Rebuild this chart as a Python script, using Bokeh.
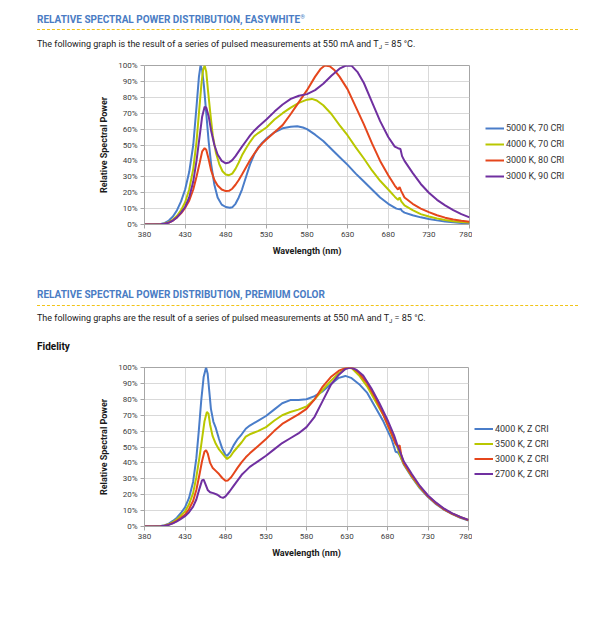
from bokeh.plotting import figure
from bokeh.models import (Legend, LegendItem, FixedTicker, PrintfTickFormatter,
                          Range1d, Div)
from bokeh.layouts import column, row
from bokeh.embed import file_html
from bokeh.resources import INLINE

FONT = "Roboto"

# ---------------- data: chart 1 (EasyWhite) ----------------
x_ticks = [380, 430, 480, 530, 580, 630, 680, 730, 780]
y_ticks = [0, 10, 20, 30, 40, 50, 60, 70, 80, 90, 100]

ew_names = ["5000 K, 70 CRI", "4000 K, 70 CRI", "3000 K, 80 CRI", "3000 K, 90 CRI"]

wl_5000_70 = [380, 390, 400, 405, 410, 415, 420, 425, 430, 435, 440, 444, 447, 449, 451, 453, 456, 459, 462, 466, 470, 475, 480, 485, 488, 492, 496, 500, 505, 510, 515, 520, 525, 530, 540, 550, 560, 568, 575, 580, 590, 600, 610, 620, 630, 640, 650, 660, 670, 680, 690, 694, 695, 697, 700, 710, 720, 730, 740, 750, 760, 770, 780]
sp_5000_70 = [0, 0, 0.3, 1, 2.5, 5, 9, 14.5, 22, 33, 50, 74, 93, 100, 97, 88, 70, 52, 38, 25, 17, 12.5, 11, 10.5, 10.8, 13, 17, 22, 30, 38, 44, 48.5, 51.5, 54, 58, 60.5, 61.5, 61.8, 61, 60, 56.5, 52.5, 47.5, 42.5, 37.5, 32, 27, 22, 17, 13, 10, 9.5, 10, 8.5, 7.5, 5.8, 4.5, 3.5, 2.6, 1.9, 1.4, 1, 0.7]

wl_4000_70 = [380, 390, 400, 405, 410, 415, 420, 425, 430, 435, 440, 444, 447, 450, 452, 454, 456, 458, 461, 464, 468, 472, 476, 480, 484, 488, 492, 496, 500, 505, 510, 515, 520, 530, 540, 550, 560, 570, 580, 586, 592, 600, 610, 620, 630, 640, 650, 660, 670, 680, 688, 692, 694, 696, 700, 710, 720, 730, 740, 750, 760, 770, 780]
sp_4000_70 = [0, 0, 0.2, 0.6, 1.5, 3, 5.5, 9, 14, 22, 35, 52, 70, 88, 97, 100, 96, 85, 70, 56, 45, 38, 33.5, 31.5, 31, 32, 35, 39, 43.5, 48, 52, 55.5, 57.5, 61, 66, 70, 73.5, 76.5, 78.5, 79, 78, 75, 69.5, 62.5, 56, 48.5, 41.5, 34, 27.5, 22, 17.5, 15.5, 17, 14.5, 12, 9, 6.5, 5, 3.8, 2.8, 2.1, 1.6, 1.2]

wl_3000_80 = [380, 390, 400, 405, 410, 415, 420, 425, 430, 435, 440, 444, 448, 451, 454, 456, 459, 462, 466, 470, 475, 480, 484, 488, 492, 496, 500, 505, 510, 515, 520, 525, 530, 540, 550, 560, 570, 580, 590, 597, 602, 608, 614, 620, 630, 640, 650, 660, 670, 680, 688, 692, 694, 696, 700, 710, 720, 730, 740, 750, 760, 770, 780]
sp_3000_80 = [0, 0, 0.2, 0.5, 1.2, 2.5, 4.5, 7, 10.5, 15, 22, 30, 39, 46, 48, 47, 41, 34, 28, 24.5, 22, 21, 21.2, 22.5, 25, 28, 31.5, 36, 40.5, 44.5, 48, 51, 53.5, 58, 62.5, 69.5, 77, 84.5, 93, 98, 100, 99.5, 97, 93, 85, 74, 63, 51, 40, 31, 24.5, 22, 23.5, 21, 17, 13, 10, 7.8, 5.8, 4.3, 3.2, 2.4, 1.8]

wl_3000_90 = [380, 390, 400, 405, 410, 415, 420, 425, 430, 435, 440, 444, 448, 451, 454, 456, 459, 462, 466, 470, 475, 480, 484, 488, 492, 496, 500, 505, 510, 515, 520, 530, 540, 550, 560, 570, 580, 590, 600, 610, 620, 628, 635, 642, 650, 660, 670, 680, 688, 692, 695, 697, 700, 710, 720, 730, 740, 750, 760, 770, 780]
sp_3000_90 = [0, 0, 0.2, 0.5, 1.2, 2.5, 4.5, 7.5, 11, 17, 27, 40, 56, 68, 74, 73.5, 68, 59, 50, 44, 40, 38.5, 39, 40.5, 43, 46, 49, 52.5, 56, 59, 61.5, 66, 71, 75.5, 79, 81, 82, 84.5, 88.5, 93.5, 98, 100, 99.8, 96, 89, 77, 65, 55, 49, 48, 47.5, 43, 40, 32.5, 25.5, 20, 15.5, 12, 9, 6.5, 4.5]

# ---------------- data: chart 2 (Premium Color, Fidelity) ----------------
pc_names = ["4000 K, Z CRI", "3500 K, Z CRI", "3000 K, Z CRI", "2700 K, Z CRI"]

wl_4000_z = [380, 390, 400, 405, 410, 415, 420, 425, 430, 435, 440, 444, 447, 450, 453, 456, 458, 460, 462, 465, 468, 472, 476, 480, 482, 486, 490, 495, 500, 505, 510, 520, 530, 540, 550, 560, 570, 580, 590, 600, 610, 620, 628, 635, 645, 655, 665, 675, 685, 690, 693, 696, 700, 710, 720, 730, 740, 750, 760, 770, 780]
sp_4000_z = [0, 0, 0.3, 0.8, 1.8, 3.5, 5.5, 8.5, 12, 18, 28, 43, 60, 79, 94, 100, 96, 85, 74, 66, 62, 55, 49, 45, 44.5, 47, 51, 55, 58, 61.5, 63.5, 66.5, 69.5, 73.5, 77.5, 79.5, 79.5, 80, 82, 85, 89.5, 93.5, 94.7, 93.5, 89.5, 84, 75, 66, 55, 47, 46.5, 44, 39, 31, 24, 18.5, 14, 10.5, 7.8, 5.5, 3.8]

wl_3500_z = [380, 390, 400, 405, 410, 415, 420, 425, 430, 435, 440, 444, 448, 451, 454, 457, 459, 461, 464, 468, 472, 476, 480, 482, 486, 490, 495, 500, 505, 510, 520, 530, 540, 550, 560, 570, 580, 590, 600, 610, 620, 630, 636, 645, 655, 665, 675, 685, 692, 696, 700, 710, 720, 730, 740, 750, 760, 770, 780]
sp_3500_z = [0, 0, 0.2, 0.6, 1.4, 2.7, 4.5, 7, 9.5, 14, 21, 31, 44, 55, 66, 72, 71, 64, 57, 52, 48.5, 46, 43.5, 42.5, 44, 47, 50, 53, 56.5, 58, 60, 62.5, 66.5, 70, 72, 73.5, 75.5, 80, 86, 91.5, 96.5, 99.8, 99.5, 95, 88, 79, 70, 58, 50, 44, 39.5, 31.5, 24.5, 19, 14.5, 10.8, 8, 5.8, 4]

wl_3000_z = [380, 390, 400, 405, 410, 415, 420, 425, 430, 435, 440, 444, 448, 451, 454, 456, 458, 461, 464, 468, 472, 476, 480, 483, 487, 491, 495, 500, 505, 510, 520, 530, 540, 550, 560, 570, 580, 590, 600, 610, 620, 630, 638, 645, 655, 665, 675, 685, 690, 693, 695, 697, 700, 710, 720, 730, 740, 750, 760, 770, 780]
sp_3000_z = [0, 0, 0.2, 0.5, 1.2, 2.2, 3.6, 5.5, 7.5, 11, 16, 23, 33, 41, 47, 48, 46, 40, 37, 35, 33, 30.5, 28.8, 29, 31, 34, 37, 40.5, 43.5, 46, 50.5, 55, 60, 64.5, 67.5, 70.5, 74, 80, 88, 94, 98, 100, 99.5, 96.5, 90, 81, 70, 58.5, 52, 50.5, 51, 45, 40, 32, 25, 19, 14.5, 10.8, 8, 5.8, 4]

wl_2700_z = [380, 390, 400, 405, 410, 415, 420, 425, 430, 435, 440, 444, 448, 451, 453, 455, 458, 461, 465, 470, 474, 477, 480, 485, 490, 495, 500, 505, 510, 520, 530, 540, 550, 560, 570, 580, 590, 600, 610, 620, 628, 634, 642, 650, 660, 670, 680, 688, 693, 697, 700, 710, 720, 730, 740, 750, 760, 770, 780]
sp_2700_z = [0, 0, 0.2, 0.5, 1, 2, 3.2, 4.8, 6.5, 9, 12.5, 17, 24, 29, 29.5, 27, 23, 21.5, 21, 20, 18.5, 18, 19, 22, 25.5, 29, 32.5, 35, 37.5, 41, 44.5, 48.5, 52.5, 55.5, 58.5, 62.5, 69, 79, 89, 95.5, 99, 100, 98.5, 95, 87, 77.5, 67, 57.5, 50, 45, 41, 33, 25.5, 19.5, 15, 11.2, 8.3, 6, 4.2]

colors = ["#4a7dc9", "#b9c700", "#e5461c", "#7030a0"]

W = 612
CW = 472          # width of chart figure
LW = W - CW       # width of legend figure
HEAD = "#4a7cc4"


def make_chart(height, top, fw, fh, series):
    p = figure(width=CW, height=height, output_backend="svg", toolbar_location=None,
               x_range=Range1d(380, 780), y_range=Range1d(0, 100),
               min_border_left=144, min_border_right=CW - 144 - fw,
               min_border_top=top, min_border_bottom=height - top - fh)
    p.background_fill_color = "white"
    p.border_fill_color = "white"
    p.outline_line_color = "#a6a6a6"
    p.xaxis.ticker = FixedTicker(ticks=x_ticks)
    p.yaxis.ticker = FixedTicker(ticks=y_ticks)
    p.yaxis.formatter = PrintfTickFormatter(format="%d%%")
    p.xaxis.axis_label = "Wavelength (nm)"
    p.yaxis.axis_label = "Relative Spectral Power"
    for ax in (p.xaxis[0], p.yaxis[0]):
        ax.axis_line_color = "#a6a6a6"
        ax.major_tick_line_color = "#a6a6a6"
        ax.major_tick_out = 4
        ax.major_tick_in = 0
        ax.minor_tick_line_color = None
        ax.major_label_text_font = FONT
        ax.major_label_text_font_size = "8px"
        ax.major_label_text_color = "#404040"
        ax.major_label_standoff = 3
        ax.axis_label_text_font = FONT
        ax.axis_label_text_font_style = "bold"
        ax.axis_label_text_font_size = "9px"
        ax.axis_label_text_color = "#1a1a1a"
    p.xaxis.axis_label_standoff = 6
    p.yaxis.axis_label_standoff = 6
    p.xgrid.grid_line_color = "#d9d9d9"
    p.ygrid.grid_line_color = "#d9d9d9"
    for (wl, sp), c in zip(series, colors):
        p.line(wl, sp, line_color=c, line_width=2)
    return p


def make_legend(height, names, leg_x, leg_y, row_h):
    # separate legend panel; its frame is aligned with the chart frame by the row layout
    q = figure(width=LW, height=height, output_backend="svg", toolbar_location=None,
               x_range=Range1d(0, 1), y_range=Range1d(0, 1),
               x_axis_type=None, y_axis_type=None, min_border=0)
    q.outline_line_color = None
    q.background_fill_color = "white"
    q.border_fill_color = "white"
    q.xgrid.visible = False
    q.ygrid.visible = False
    items = []
    for c, n in zip(colors, names):
        # proxy renderer lying outside the visible range, used only for the legend swatch
        r = q.line([5, 6], [5, 6], line_color=c, line_width=2)
        items.append(LegendItem(label=n, renderers=[r]))
    leg = Legend(items=items, location=(leg_x, leg_y))
    leg.border_line_color = None
    leg.background_fill_alpha = 0
    leg.padding = 0
    leg.margin = 0
    leg.spacing = 0
    leg.glyph_width = 19
    leg.glyph_height = row_h
    leg.label_height = row_h
    leg.label_standoff = 2
    leg.label_text_font = FONT
    leg.label_text_font_size = "9px"
    leg.label_text_color = "#333333"
    leg.label_text_baseline = "middle"
    q.add_layout(leg, "center")
    return q


def block(height, parts):
    html = ('<div style="position:relative;width:%dpx;height:%dpx;font-family:Roboto,sans-serif;">' % (W, height)
            + "".join(parts) + "</div>")
    return Div(text=html, width=W, height=height, margin=(0, 0, 0, 0),
               styles={"padding": "0px", "margin": "0px"})


def heading(top, text):
    return ('<div style="position:absolute;left:37px;top:%dpx;font-weight:bold;font-size:10px;'
            'line-height:12px;color:%s;white-space:nowrap;">%s</div>' % (top, HEAD, text))


def rule(top):
    return ('<div style="position:absolute;left:37px;top:%dpx;width:541px;height:0px;'
            'border-top:1px dashed #f0c419;"></div>' % top)


def body(top, text, size=9, bold=False, color="#1a1a1a"):
    return ('<div style="position:absolute;left:37px;top:%dpx;font-size:%dpx;line-height:12px;'
            'font-weight:%s;color:%s;white-space:nowrap;">%s</div>'
            % (top, size, "bold" if bold else "normal", color, text))


SUB = '<sub style="font-size:6px;vertical-align:-2px;">J</sub>'

div1 = block(56, [
    heading(11, "RELATIVE SPECTRAL POWER DISTRIBUTION, EASYWHITE<sup style=\"font-size:6px;\">&reg;</sup>"),
    rule(29),
    body(38, "The following graph is the result of a series of pulsed measurements at 550 mA and T" + SUB + " = 85 &deg;C."),
])

p1 = make_chart(224, 9, 325, 159,
                [(wl_5000_70, sp_5000_70), (wl_4000_70, sp_4000_70),
                 (wl_3000_80, sp_3000_80), (wl_3000_90, sp_3000_90)])
l1 = make_legend(224, ew_names, 13, 40, 16)

div2 = block(78, [
    heading(9, "RELATIVE SPECTRAL POWER DISTRIBUTION, PREMIUM COLOR"),
    rule(25),
    body(32, "The following graphs are the result of a series of pulsed measurements at 550 mA and T" + SUB + " = 85 &deg;C."),
    body(61, "Fidelity", size=10, bold=True, color="#111111"),
])

p2 = make_chart(279, 9, 324, 159,
                [(wl_4000_z, sp_4000_z), (wl_3500_z, sp_3500_z),
                 (wl_3000_z, sp_3000_z), (wl_2700_z, sp_2700_z)])
l2 = make_legend(279, pc_names, 2, 45, 15)

layout = column(div1, row(p1, l1, spacing=0), div2, row(p2, l2, spacing=0), spacing=0)
open("out.html", "w").write(file_html(layout, INLINE))
